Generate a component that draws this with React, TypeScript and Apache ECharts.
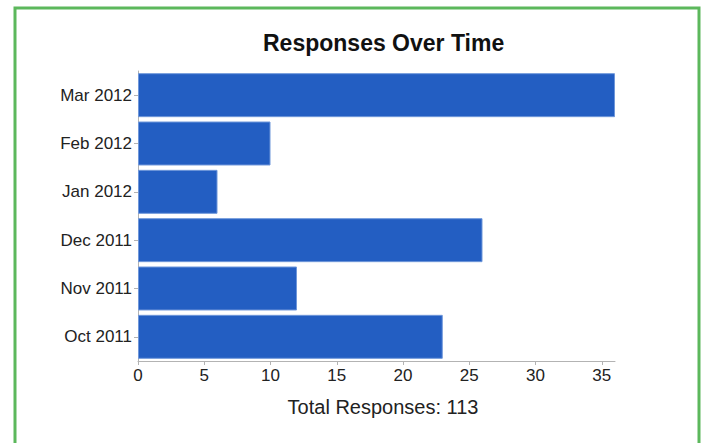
import React, { useEffect, useRef } from "react";
import * as echarts from "echarts";

const months = ["Oct 2011", "Nov 2011", "Dec 2011", "Jan 2012", "Feb 2012", "Mar 2012"];
const responses = [23, 12, 26, 6, 10, 36];
const xTicks = [0, 5, 10, 15, 20, 25, 30, 35];
const titleText = "Responses Over Time";
const totalText = "Total Responses: 113";

export default function App() {
  const ref = useRef<HTMLDivElement>(null);
  useEffect(() => {
    if (!ref.current) return;
    document.body.style.margin = "0";
    const chart = echarts.init(ref.current, undefined, { renderer: "svg" });
    const axisGray = "#b3b3b3";
    chart.setOption({
      animation: false,
      backgroundColor: "#ffffff",
      grid: { left: 138, right: 86, top: 71, bottom: 82, containLabel: false },
      title: {
        text: titleText,
        left: 263,
        top: 31,
        padding: 0,
        textStyle: { fontFamily: "Liberation Sans, Arial, sans-serif", fontSize: 23, fontWeight: "bold", color: "#111" },
      },
      graphic: [
        {
          type: "rect",
          shape: { x: 15, y: 8, width: 684, height: 520 },
          style: { fill: "none", stroke: "#5cb85c", lineWidth: 3 },
          silent: true,
        },
        {
          type: "text",
          x: 383,
          y: 407,
          style: {
            text: totalText,
            fontFamily: "Liberation Sans, Arial, sans-serif",
            fontSize: 20,
            fill: "#222",
            textAlign: "center",
            textVerticalAlign: "middle",
          },
        },
      ],
      xAxis: {
        type: "value",
        min: 0,
        max: 36,
        interval: 5,
        splitLine: { show: false },
        axisLine: { show: true, lineStyle: { color: axisGray, width: 1 } },
        axisTick: { show: true, length: 4, lineStyle: { color: axisGray }, customValues: xTicks },
        axisLabel: {
          customValues: xTicks,
          margin: 6,
          fontFamily: "Liberation Sans, Arial, sans-serif",
          fontSize: 17,
          color: "#222",
        },
      },
      yAxis: {
        type: "category",
        data: months,
        axisLine: { show: true, lineStyle: { color: axisGray, width: 1 } },
        axisTick: { show: true, length: 4, alignWithLabel: true, lineStyle: { color: axisGray } },
        axisLabel: {
          margin: 6,
          fontFamily: "Liberation Sans, Arial, sans-serif",
          fontSize: 17,
          color: "#222",
        },
      },
      series: [
        {
          type: "bar",
          data: responses,
          barCategoryGap: "9%",
          itemStyle: { color: "#235ec2", borderColor: "#6f97da", borderWidth: 1 },
        },
      ],
    });
    return () => chart.dispose();
  }, []);
  return <div ref={ref} style={{ position: "absolute", left: 0, top: 0, width: 701, height: 443 }} />;
}
